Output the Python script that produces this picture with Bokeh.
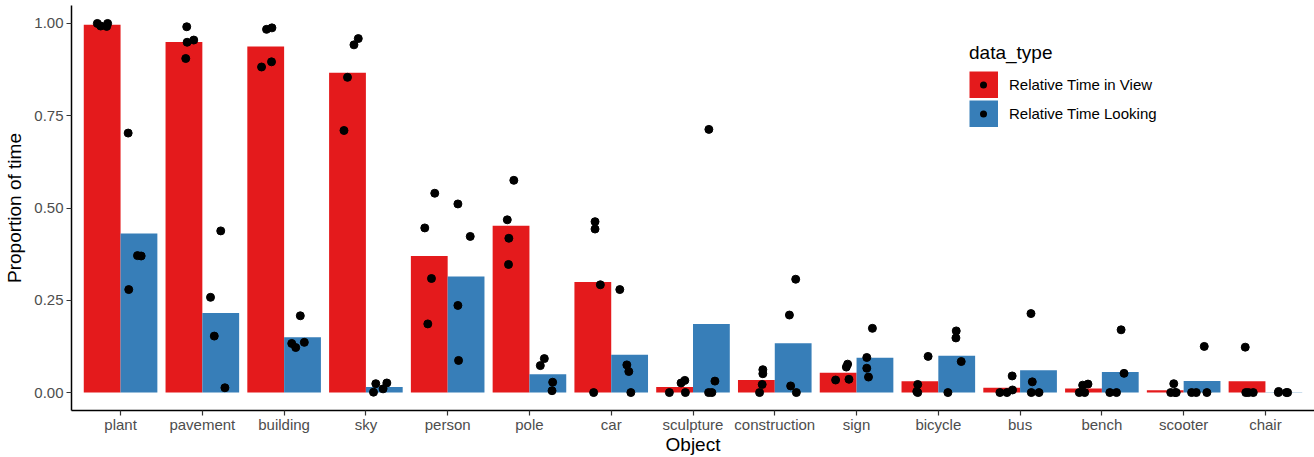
import numpy as np
from bokeh.plotting import figure
from bokeh.models import (ColumnDataSource, FixedTicker, PrintfTickFormatter,
                          Legend, LegendItem, Range1d)
from bokeh.embed import file_html
from bokeh.resources import INLINE

objects = ["plant", "pavement", "building", "sky", "person", "pole", "car",
           "sculpture", "construction", "sign", "bicycle", "bus", "bench",
           "scooter", "chair"]
data_types = ["Relative Time in View", "Relative Time Looking"]

# per-participant values (4 per object)
view_values = [
    [1.000, 0.993, 0.992, 1.000],
    [0.991, 0.949, 0.955, 0.905],
    [0.984, 0.988, 0.882, 0.896],
    [0.959, 0.942, 0.854, 0.710],
    [0.540, 0.446, 0.309, 0.186],
    [0.575, 0.468, 0.418, 0.347],
    [0.463, 0.443, 0.292, 0.000],
    [0.000, 0.000, 0.026, 0.033],
    [0.062, 0.051, 0.022, 0.000],
    [0.034, 0.036, 0.069, 0.077],
    [0.098, 0.022, 0.003, 0.000],
    [0.000, 0.000, 0.007, 0.045],
    [0.020, 0.023, 0.000, 0.000],
    [0.024, 0.000, 0.000, 0.000],
    [0.123, 0.000, 0.000, 0.000],
]
look_values = [
    [0.703, 0.279, 0.371, 0.370],
    [0.438, 0.258, 0.153, 0.013],
    [0.208, 0.133, 0.122, 0.136],
    [0.001, 0.024, 0.010, 0.026],
    [0.511, 0.423, 0.236, 0.087],
    [0.092, 0.073, 0.028, 0.005],
    [0.279, 0.075, 0.057, 0.000],
    [0.713, 0.031, 0.000, 0.000],
    [0.307, 0.210, 0.018, 0.000],
    [0.174, 0.095, 0.066, 0.042],
    [0.167, 0.148, 0.084, 0.000],
    [0.214, 0.029, 0.000, 0.000],
    [0.170, 0.052, 0.000, 0.000],
    [0.125, 0.000, 0.000, 0.000],
    [0.003, 0.000, 0.000, 0.000],
]
# horizontal jitter of each point (fraction of a category)
view_jitter = [
    [-0.059, -0.018, 0.055, 0.067],
    [0.034, 0.039, 0.120, 0.022],
    [0.010, 0.076, -0.051, 0.071],
    [0.132, 0.079, 0.000, -0.043],
    [0.067, -0.055, 0.027, -0.018],
    [0.034, -0.046, -0.027, -0.031],
    [0.027, 0.027, 0.092, 0.010],
    [-0.064, 0.132, 0.079, 0.125],
    [0.079, 0.079, 0.071, 0.039],
    [-0.031, 0.132, 0.100, 0.116],
    [0.100, -0.027, -0.039, -0.027],
    [-0.022, 0.064, 0.132, 0.128],
    [-0.010, 0.055, -0.051, 0.015],
    [0.104, 0.067, 0.120, 0.134],
    [-0.022, -0.015, 0.076, 0.018],
]
look_jitter = [
    [-0.132, -0.125, -0.018, 0.027],
    [0.000, -0.125, -0.079, 0.051],
    [-0.027, -0.132, -0.083, 0.022],
    [-0.132, -0.104, -0.015, 0.031],
    [-0.100, 0.051, -0.100, -0.092],
    [-0.043, -0.092, 0.059, 0.051],
    [-0.120, -0.034, -0.010, 0.015],
    [-0.031, 0.043, -0.034, 0.006],
    [0.031, -0.046, -0.031, 0.039],
    [-0.031, -0.100, -0.100, -0.079],
    [-0.006, -0.010, 0.055, -0.108],
    [-0.092, -0.076, -0.088, 0.006],
    [0.010, 0.046, -0.128, -0.046],
    [0.027, -0.128, -0.071, 0.059],
    [-0.064, -0.067, 0.046, 0.031],
]

colors = ["#E41A1C", "#377EB8"]
FONT = "Liberation Sans"
dodge = 0.225
bar_w = 0.45

p = figure(width=1314, height=457, output_backend="svg", toolbar_location=None,
           x_range=Range1d(0.4, 15.6), y_range=Range1d(-0.0486, 1.0486))
p.min_border_left = 71
p.min_border_right = 0
p.min_border_top = 5
p.min_border_bottom = 46
p.outline_line_color = None
p.xgrid.visible = False
p.ygrid.visible = False
p.background_fill_color = "white"
p.border_fill_color = "white"

for k, vals in enumerate([view_values, look_values]):
    off = -dodge if k == 0 else dodge
    centers = [i + 1 + off for i in range(len(objects))]
    means = [float(np.mean(v)) for v in vals]
    src = ColumnDataSource(dict(x=centers, top=means))
    p.vbar(x="x", top="top", bottom=0, width=bar_w, source=src,
           fill_color=colors[k], line_color=None)

for k, (vals, jit) in enumerate([(view_values, view_jitter), (look_values, look_jitter)]):
    off = -dodge if k == 0 else dodge
    xs, ys = [], []
    for i in range(len(objects)):
        for v, j in zip(vals[i], jit[i]):
            xs.append(i + 1 + off + j)
            ys.append(v)
    p.scatter(x=xs, y=ys, size=8, fill_color="black", line_color="black")

# legend keys: filled swatch (thick line) with a small round point at its centre;
# NaN data so nothing appears in the plot area
nan = float("nan")
key_swatches = [p.line(x=[nan], y=[nan], line_color=c, line_width=27, line_cap="butt")
                for c in colors]
key_dot = p.line(x=[nan], y=[nan], line_color="black", line_width=7, line_cap="round",
                 line_dash="0 100", line_dash_offset=86)

legend = Legend(items=[LegendItem(label=data_types[k], renderers=[key_swatches[k], key_dot])
                       for k in range(2)],
                location=(898, 283))
legend.title = "data_type"
legend.title_text_font = FONT
legend.title_text_font_size = "19px"
legend.title_text_font_style = "normal"
legend.title_text_color = "black"
legend.title_standoff = 7
legend.label_text_font = FONT
legend.label_text_font_size = "15px"
legend.label_text_color = "black"
legend.glyph_width = 29
legend.glyph_height = 27
legend.label_height = 27
legend.spacing = 2
legend.label_standoff = 11
legend.padding = 0
legend.margin = 0
legend.border_line_alpha = 0
legend.background_fill_alpha = 0
p.add_layout(legend, "center")

for ax in (p.xaxis[0], p.yaxis[0]):
    ax.axis_line_color = "black"
    ax.axis_line_width = 1.5
    ax.major_tick_line_color = "#333333"
    ax.major_tick_line_width = 1.2
    ax.major_tick_out = 5
    ax.major_tick_in = 0
    ax.minor_tick_out = 0
    ax.minor_tick_in = 0
    ax.major_label_text_font = FONT
    ax.major_label_text_font_size = "15px"
    ax.major_label_text_color = "#4d4d4d"
    ax.axis_label_text_font = FONT
    ax.axis_label_text_font_size = "19px"
    ax.axis_label_text_font_style = "normal"
    ax.axis_label_text_color = "black"

p.xaxis.ticker = FixedTicker(ticks=list(range(1, len(objects) + 1)))
p.xaxis.major_label_overrides = {i + 1: name for i, name in enumerate(objects)}
p.xaxis.axis_label = "Object"
p.xaxis.major_label_standoff = 0
p.xaxis.axis_label_standoff = -2

p.yaxis.ticker = FixedTicker(ticks=[0, 0.25, 0.5, 0.75, 1.0])
p.yaxis.formatter = PrintfTickFormatter(format="%.2f")
p.yaxis.axis_label = "Proportion of time"
p.yaxis.major_label_standoff = 3
p.yaxis.axis_label_standoff = 6

open("out.html", "w").write(file_html(p, INLINE))
